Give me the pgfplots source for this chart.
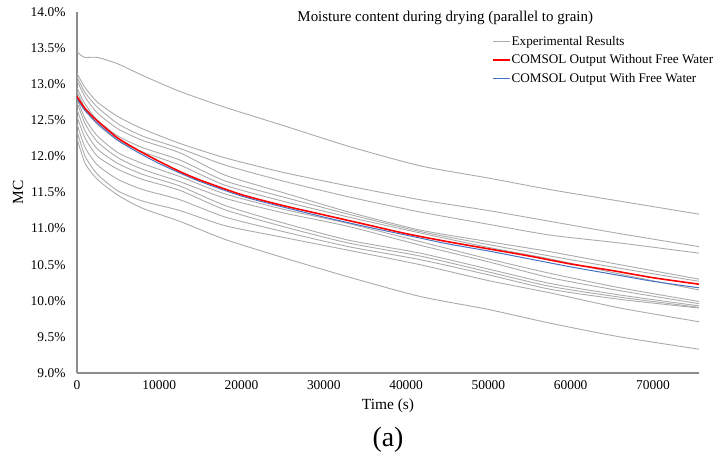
\documentclass[border=0pt]{standalone}
\usepackage{fontspec}
\setmainfont{Liberation Serif}
\usepackage{pgfplots}
\pgfplotsset{compat=1.18}
\definecolor{expgray}{HTML}{ABABAB}
\definecolor{axgray}{HTML}{8C8C8C}
\definecolor{comsolblue}{HTML}{4472C4}
\definecolor{comsolred}{HTML}{FF0000}
\begin{document}
\begin{tikzpicture}
\begin{axis}[
  scale only axis, width=622bp, height=361bp,
  xmin=0, xmax=75600, ymin=9, ymax=14,
  scaled x ticks=false,
  axis x line=bottom, axis y line=left,
  axis line style={-, axgray, line width=1.1pt},
  xtick={0,10000,20000,30000,40000,50000,60000,70000},
  xticklabels={0,10000,20000,30000,40000,50000,60000,70000},
  ytick={9,9.5,10,10.5,11,11.5,12,12.5,13,13.5,14},
  yticklabels={9.0\%,9.5\%,10.0\%,10.5\%,11.0\%,11.5\%,12.0\%,12.5\%,13.0\%,13.5\%,14.0\%},
  major tick length=0pt,
  tick label style={font=\fontsize{13.5}{15}\selectfont},
  xticklabel style={yshift=-4bp},
  yticklabel style={xshift=-8bp},
  xlabel={Time (s)}, ylabel={MC},
  every axis x label/.style={at={(rel axis cs:0.5,0)}, anchor=center, yshift=-33bp, font=\fontsize{15.5}{17}\selectfont},
  every axis y label/.style={at={(rel axis cs:0,0.5)}, anchor=center, xshift=-59bp, rotate=90, font=\fontsize{15.5}{17}\selectfont},
  title={Moisture content during drying (parallel to grain)},
  every axis title/.style={at={(rel axis cs:0.592,0.983)}, anchor=center, font=\fontsize{15}{17}\selectfont},
  legend style={draw=none, fill=none, at={(rel axis cs:0.667,0.937)}, anchor=north west,
    font=\fontsize{13.2}{15}\selectfont, row sep=6bp, inner sep=0pt, nodes={inner sep=1bp}},
  legend cell align=left,
  legend image code/.code={\draw[#1] (0bp,0bp) -- (17bp,0bp);},
  every axis plot/.append style={no marks},
  clip=true,
]
% Experimental results (gray)
\addplot[draw=expgray, line width=0.9pt, smooth, tension=0.4] coordinates {(0,13.45)(500,13.40)(1000,13.37)(2500,13.37)(5000,13.28)(8000,13.12)(12500,12.90)(18000,12.68)(25000,12.43)(33000,12.14)(41700,11.87)(50000,11.70)(57500,11.54)(66000,11.38)(75600,11.20)};
\addlegendentry{Experimental Results}
\addplot[draw=expgray, line width=0.9pt, smooth, tension=0.4, forget plot] coordinates {(0,13.15)(1000,12.95)(2500,12.75)(5000,12.55)(8000,12.38)(12500,12.18)(18000,11.98)(25000,11.78)(33000,11.59)(41700,11.40)(50000,11.25)(57500,11.10)(66000,10.93)(75600,10.75)};
\addplot[draw=expgray, line width=0.9pt, smooth, tension=0.4, forget plot] coordinates {(0,13.10)(1000,12.88)(2500,12.68)(5000,12.45)(8000,12.28)(12500,12.11)(18000,11.88)(25000,11.66)(33000,11.44)(41700,11.23)(50000,11.06)(57500,10.91)(66000,10.80)(75600,10.66)};
\addplot[draw=expgray, line width=0.9pt, smooth, tension=0.4, forget plot] coordinates {(0,13.05)(1000,12.82)(2500,12.60)(5000,12.38)(8000,12.22)(12500,12.05)(18000,11.74)(25000,11.50)(33000,11.23)(41700,10.98)(50000,10.82)(57500,10.68)(66000,10.50)(75600,10.30)};
\addplot[draw=expgray, line width=0.9pt, smooth, tension=0.4, forget plot] coordinates {(0,12.95)(1000,12.72)(2500,12.50)(5000,12.28)(8000,12.12)(12500,11.95)(18000,11.66)(25000,11.44)(33000,11.20)(41700,10.96)(50000,10.78)(57500,10.62)(66000,10.45)(75600,10.27)};
\addplot[draw=expgray, line width=0.9pt, smooth, tension=0.4, forget plot] coordinates {(0,12.90)(1000,12.66)(2500,12.44)(5000,12.22)(8000,12.06)(12500,11.88)(18000,11.60)(25000,11.38)(33000,11.16)(41700,10.94)(50000,10.74)(57500,10.58)(66000,10.37)(75600,10.15)};
\addplot[draw=expgray, line width=0.9pt, smooth, tension=0.4, forget plot] coordinates {(0,12.80)(1000,12.52)(2500,12.28)(5000,12.05)(8000,11.90)(12500,11.72)(18000,11.48)(25000,11.27)(33000,11.07)(41700,10.82)(50000,10.58)(57500,10.38)(66000,10.18)(75600,9.99)};
\addplot[draw=expgray, line width=0.9pt, smooth, tension=0.4, forget plot] coordinates {(0,12.75)(1000,12.45)(2500,12.20)(5000,11.98)(8000,11.82)(12500,11.65)(18000,11.42)(25000,11.22)(33000,11.03)(41700,10.77)(50000,10.54)(57500,10.32)(66000,10.14)(75600,9.96)};
\addplot[draw=expgray, line width=0.9pt, smooth, tension=0.4, forget plot] coordinates {(0,12.65)(1000,12.35)(2500,12.10)(5000,11.90)(8000,11.75)(12500,11.59)(18000,11.32)(25000,11.08)(33000,10.84)(41700,10.66)(50000,10.44)(57500,10.24)(66000,10.08)(75600,9.93)};
\addplot[draw=expgray, line width=0.9pt, smooth, tension=0.4, forget plot] coordinates {(0,12.55)(1000,12.25)(2500,12.00)(5000,11.82)(8000,11.68)(12500,11.53)(18000,11.26)(25000,11.03)(33000,10.80)(41700,10.62)(50000,10.40)(57500,10.20)(66000,10.05)(75600,9.91)};
\addplot[draw=expgray, line width=0.9pt, smooth, tension=0.4, forget plot] coordinates {(0,12.45)(1000,12.12)(2500,11.88)(5000,11.68)(8000,11.54)(12500,11.40)(18000,11.16)(25000,10.96)(33000,10.75)(41700,10.57)(50000,10.36)(57500,10.16)(66000,10.02)(75600,9.90)};
\addplot[draw=expgray, line width=0.9pt, smooth, tension=0.4, forget plot] coordinates {(0,12.35)(1000,12.00)(2500,11.75)(5000,11.52)(8000,11.38)(12500,11.25)(18000,11.04)(25000,10.88)(33000,10.70)(41700,10.50)(50000,10.28)(57500,10.11)(66000,9.90)(75600,9.71)};
\addplot[draw=expgray, line width=0.9pt, smooth, tension=0.4, forget plot] coordinates {(0,12.25)(1000,11.90)(2500,11.68)(5000,11.46)(8000,11.28)(12500,11.10)(18000,10.85)(25000,10.60)(33000,10.33)(41700,10.06)(50000,9.88)(57500,9.69)(66000,9.50)(75600,9.33)};
% COMSOL with free water (blue)
\addplot[draw=comsolblue, line width=1.0pt, smooth, tension=0.4, forget plot] coordinates {(0,12.80)(500,12.71)(1000,12.63)(2000,12.51)(3000,12.41)(5000,12.22)(7500,12.05)(10000,11.90)(12500,11.77)(15000,11.65)(20000,11.45)(25000,11.30)(30000,11.16)(35000,11.03)(40000,10.91)(45000,10.79)(50000,10.69)(55000,10.58)(60000,10.47)(65000,10.37)(70000,10.27)(75600,10.18)};
% COMSOL without free water (red)
\addplot[draw=comsolred, line width=1.6pt, smooth, tension=0.4] coordinates {(0,12.83)(500,12.74)(1000,12.66)(2000,12.54)(3000,12.44)(5000,12.25)(7500,12.08)(10000,11.93)(12500,11.79)(15000,11.67)(20000,11.47)(25000,11.32)(30000,11.19)(35000,11.06)(40000,10.93)(45000,10.82)(50000,10.72)(55000,10.62)(60000,10.51)(65000,10.42)(70000,10.32)(75600,10.23)};
\addlegendentry{COMSOL Output Without Free Water}
\addlegendimage{draw=comsolblue, line width=1.0pt}
\addlegendentry{COMSOL Output With Free Water}
\end{axis}
\node[font=\fontsize{28}{32}\selectfont] at ([yshift=-67bp]current axis.south) {(a)};
\pgfresetboundingbox
\path[use as bounding box] ([shift={(-77bp,-83bp)}]current axis.south west) rectangle ([shift={(26bp,12bp)}]current axis.north east);
\end{tikzpicture}
\end{document}
